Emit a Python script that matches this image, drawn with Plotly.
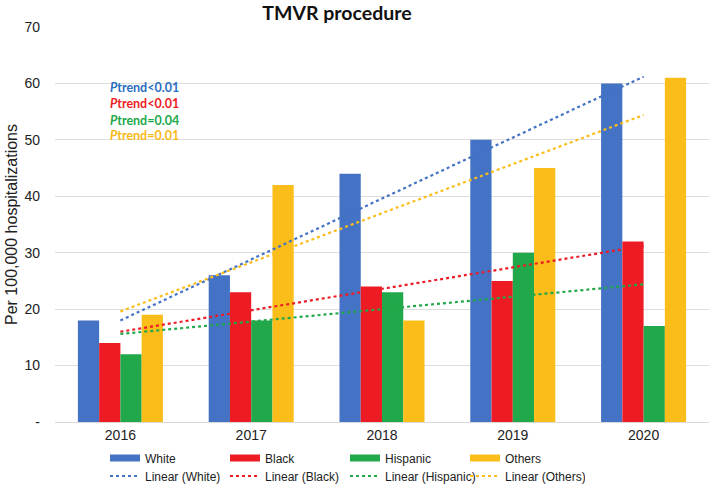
import numpy as np
import plotly.graph_objects as go

years = ["2016", "2017", "2018", "2019", "2020"]
white = [18, 26, 44, 50, 60]
black = [14, 23, 24, 25, 32]
hispanic = [12, 18, 23, 30, 17]
others = [19, 42, 18, 45, 61]

series_names = ["White", "Black", "Hispanic", "Others"]
series_values = [white, black, hispanic, others]
bar_colors = ["#4472C4", "#ED1C24", "#21A84A", "#FABD1A"]
text_colors = ["#2A6EC0", "#ED1C24", "#21A84A", "#F9B91A"]
ptrend_labels = ["trend<0.01", "trend<0.01", "trend=0.04", "trend=0.01"]

y_tickvals = [0, 10, 20, 30, 40, 50, 60, 70]
y_ticktext = ["-", "10", "20", "30", "40", "50", "60", "70"]

W, H = 709, 484
ML, MR, MT, MB = 55, 0, 27, 62
plot_h = H - MT - MB

fig = go.Figure()

# bars
for name, vals, col in zip(series_names, series_values, bar_colors):
    fig.add_trace(go.Bar(x=years, y=vals, name=name, marker=dict(color=col, line=dict(width=0)),
                         showlegend=False))

# linear trendlines
idx = np.arange(1, len(years) + 1)
for name, vals, col in zip(series_names, series_values, bar_colors):
    m, b = np.polyfit(idx, vals, 1)
    fig.add_trace(go.Scatter(x=years, y=m * idx + b, mode="lines", name=f"Linear ({name})",
                             line=dict(color=col, dash="dot", width=2.2), showlegend=False))

# legend-only entries
for name, col in zip(series_names, bar_colors):
    fig.add_trace(go.Scatter(x=[None], y=[None], mode="lines", name=name,
                             line=dict(color=col, width=7), legend="legend"))
for name, col in zip(series_names, bar_colors):
    fig.add_trace(go.Scatter(x=[None], y=[None], mode="lines", name=f"Linear ({name})",
                             line=dict(color=col, dash="dot", width=2), legend="legend2"))

# Ptrend annotations
ann_y = [59.2, 56.4, 53.5, 50.7]
for lab, col, yv in zip(ptrend_labels, text_colors, ann_y):
    fig.add_annotation(x=(108 - ML) / (W - ML - MR), xref="paper", y=yv, yref="y",
                       text=f"<b><i>P</i>{lab}</b>", showarrow=False, xanchor="left",
                       yanchor="middle", font=dict(family="Lato", size=12.5, color=col))

def py(p):
    return (H - MB - p) / plot_h

leg_common = dict(orientation="h", xanchor="left", yanchor="middle", entrywidth=75,
                  font=dict(family="Liberation Sans", size=12, color="#222"),
                  bgcolor="rgba(0,0,0,0)", itemwidth=30, tracegroupgap=0)

fig.update_layout(
    width=W, height=H,
    margin=dict(l=ML, r=MR, t=MT, b=MB, autoexpand=False),
    paper_bgcolor="white", plot_bgcolor="white",
    barmode="group", bargap=0.35, bargroupgap=0,
    title=dict(text="<b>TMVR procedure</b>", x=337 / W, xref="container", xanchor="center",
               y=1 - 13 / H, yref="container", yanchor="middle",
               font=dict(family="Lato", size=19.5, color="#111")),
    font=dict(family="Liberation Sans", color="#222"),
    legend=dict(x=(105 - ML) / (W - ML), y=py(458), **leg_common),
    legend2=dict(x=(105 - ML) / (W - ML), y=py(476), **leg_common),
    xaxis=dict(type="category", showgrid=False, showline=True, linecolor="#D9D9D9", linewidth=1,
               ticks="", tickfont=dict(size=14, color="#222"), fixedrange=True),
    yaxis=dict(range=[0, 70], tickvals=y_tickvals, ticktext=y_ticktext, showgrid=True,
               gridcolor="#DDDDDD", gridwidth=1, zeroline=False, showline=False, ticks="",
               tickfont=dict(size=14, color="#222"), ticklabelstandoff=14,
               title=dict(text="Per 100,000 hospitalizations", font=dict(size=16, color="#222"),
                          standoff=2)),
)

fig.write_html("out.html", config={"displayModeBar": False},
               post_script="document.body.style.margin='0';")
